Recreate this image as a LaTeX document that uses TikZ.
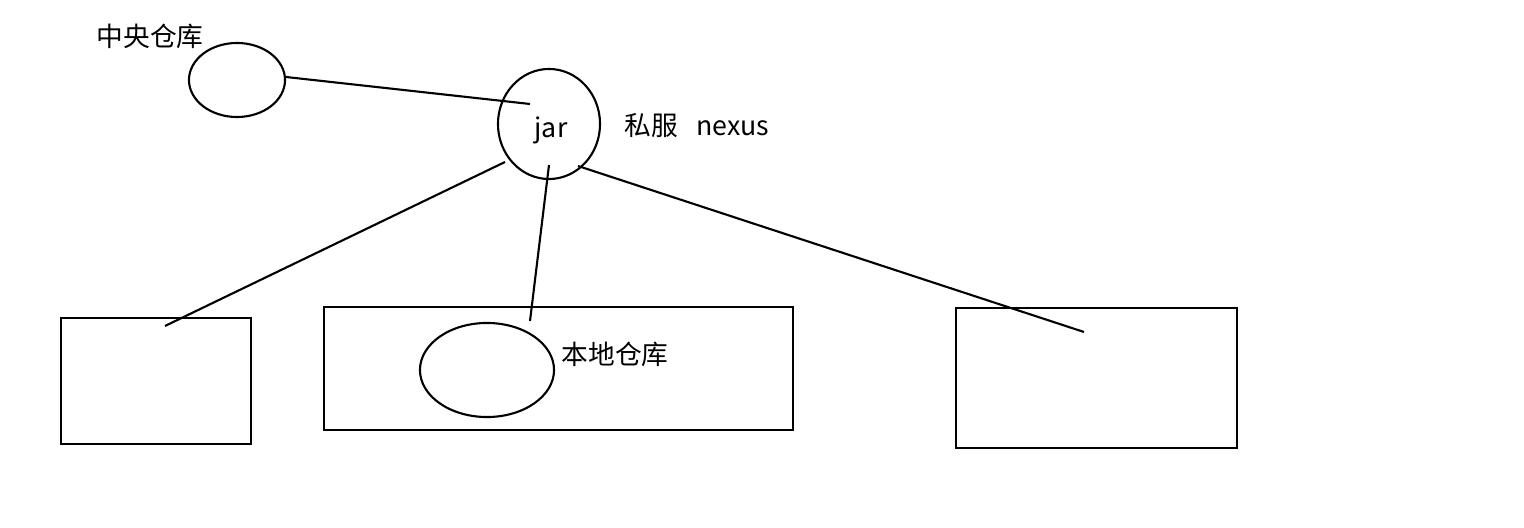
\documentclass[tikz,border=0pt]{standalone}
\usepackage{fontspec}
\setmainfont{Noto Sans CJK SC}
\usetikzlibrary{shapes.geometric}
\begin{document}
\begin{tikzpicture}[x=0.01cm,y=-0.01cm,line width=0.6pt,
    repo/.style={draw,ellipse,inner sep=0pt},
    host/.style={draw,rectangle,inner sep=0pt},
    lbl/.style={font=\fontsize{7.6}{9}\selectfont}]
  \useasboundingbox (0,0) rectangle (1524,528);
  % repositories
  \node[repo,minimum width=0.96cm,minimum height=0.74cm] (central) at (237,80) {};
  \node[lbl] (centrallbl) at (150,36) {中央仓库};
  \node[repo,minimum width=1.02cm,minimum height=1.1cm] (nexus) at (549,124) {};
  \node[lbl] (jarlbl) at (551,130) {jar};
  \node[lbl] (nexuslbl) at (697,126) {私服\ \ \ nexus};
  % developer machines
  \node[host,minimum width=1.9cm,minimum height=1.26cm] (pcA) at (156,381) {};
  \node[host,minimum width=4.69cm,minimum height=1.23cm] (pcB) at (558.5,368.5) {};
  \node[host,minimum width=2.81cm,minimum height=1.4cm] (pcC) at (1096.5,378) {};
  \node[repo,minimum width=1.34cm,minimum height=0.94cm] (local) at (487,370) {};
  \node[lbl] (locallbl) at (615,354) {本地仓库};
  % line ends
  \coordinate (m0) at (286,77);
  \coordinate (j0) at (530,104);
  \coordinate (j1) at (505,162);
  \coordinate (j2) at (549,165);
  \coordinate (j3) at (578,166);
  \coordinate (a1) at (165,326);
  \coordinate (b1) at (530,321);
  \coordinate (c1) at (1084,332);
  \draw (m0) -- (j0);
  \draw (j1) -- (a1);
  \draw (j2) -- (b1);
  \draw (j3) -- (c1);
\end{tikzpicture}
\end{document}
